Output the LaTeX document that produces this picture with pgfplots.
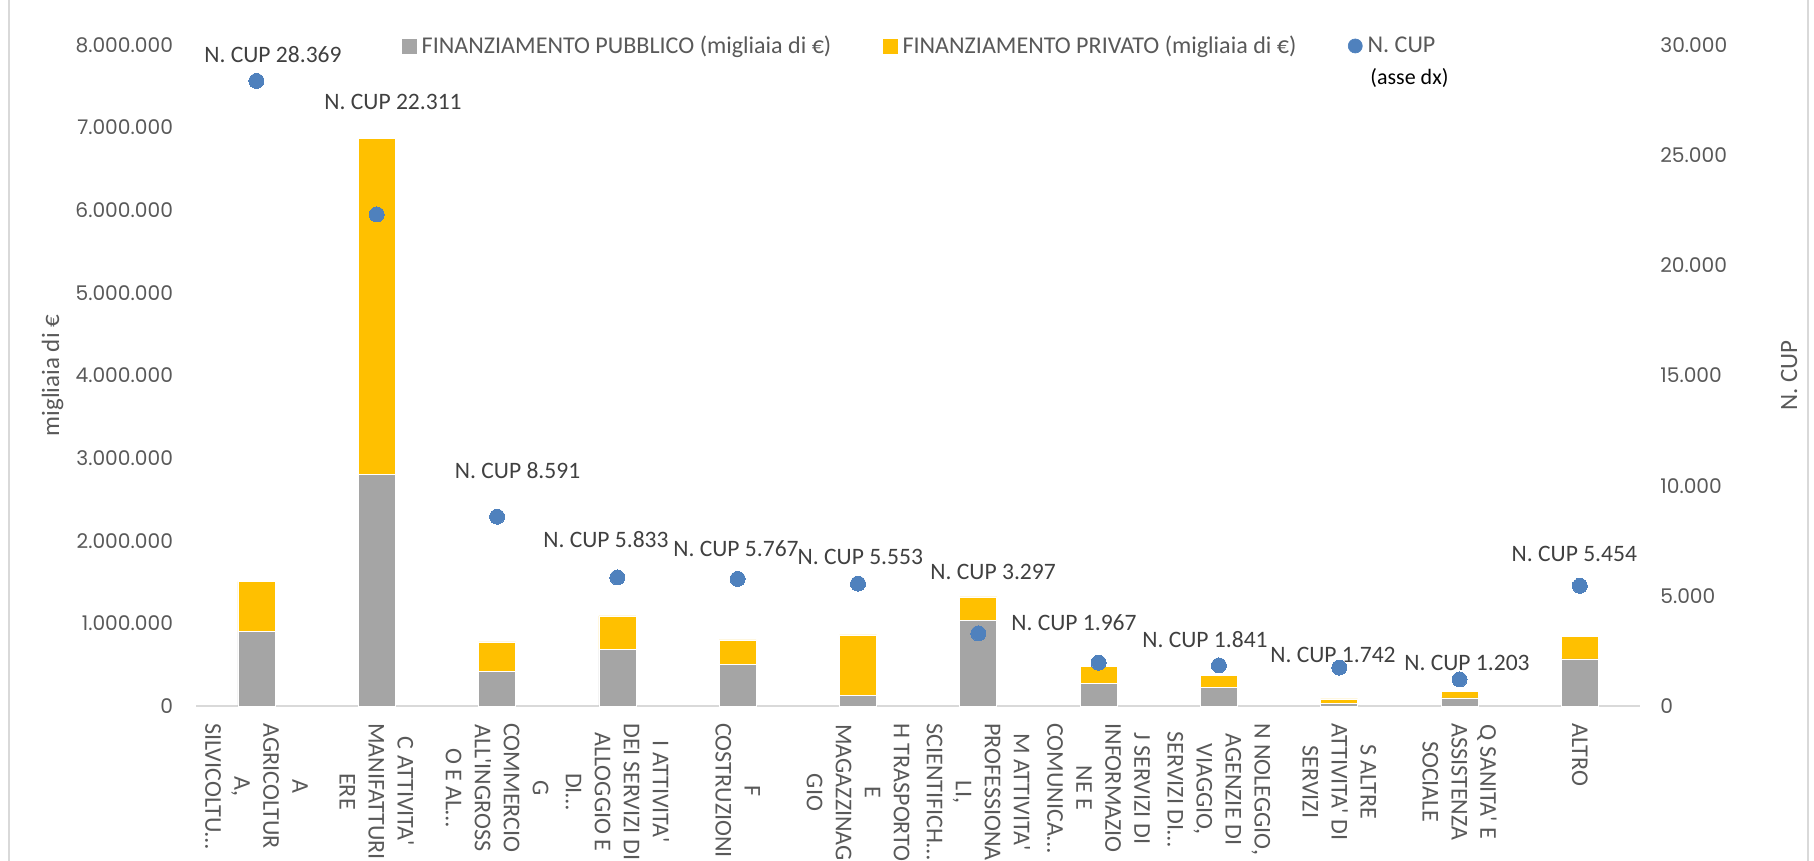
\documentclass[border=0pt]{standalone}
\usepackage{fontspec}
\setmainfont{Carlito}
\newfontfamily\tickfont{Poppins}
\usepackage{pgfplots}
\usepackage{pgfplotstable}
\pgfplotsset{compat=1.18}
\definecolor{barg}{HTML}{A5A5A5}
\definecolor{bary}{HTML}{FFC000}
\definecolor{dotb}{HTML}{4F81BD}
\definecolor{txt}{HTML}{595959}
\definecolor{dlab}{HTML}{404040}
\definecolor{brd}{HTML}{D9D9D9}
\newcommand\xlfont{\fontsize{13.7}{16.5}\selectfont}
\newcommand\dlfont{\fontsize{13.4}{16}\selectfont}
\newcommand\lgfont{\fontsize{13.7}{16}\selectfont}
\newcommand\ttlfont{\fontsize{14.2}{16}\selectfont}
\newcommand\tkfont{\tickfont\fontsize{11.5}{13}\selectfont}
\newcommand\asfont{\fontsize{12.5}{14}\selectfont}
\newcommand\q{\textquotesingle}

\pgfplotstableread{
x pub priv
0 900000 605000
1 2805000 4060000
2 415000 360000
3 686000 404000
4 508000 292000
5 125000 735000
6 1037000 283000
7 278000 206000
8 222000 153000
9 33000 52000
10 97000 81000
11 570000 274000
}\bardata

% N. CUP values; lx, ly = position of the value label
\pgfplotstableread{
x cup lx ly
0 28369 0.137 29549
1 22311 1.135 27426
2 8591 2.170 10679
3 5833 2.905 7535
4 5767 3.986 7156
5 5553 5.019 6779
6 3297 6.123 6093
7 1967 6.795 3783
8 1841 7.884 2994
9 1742 8.948 2314
10 1203 10.062 1938
11 5454 10.954 6897
}\cupdata

\begin{document}
\begin{tikzpicture}
\begin{axis}[
  scale only axis, width=288.74mm, height=132.2mm,
  xmin=-0.5, xmax=11.5, ymin=0, ymax=8000000, enlargelimits=false,
  ybar stacked, bar width=7.4mm,
  axis x line*=bottom, axis y line*=left,
  x axis line style={draw=brd, line width=0.4mm, -},
  y axis line style={draw=none},
  major tick length=0pt, tick style={draw=none},
  xtick={0,...,11},
  xticklabels={
    {A\\AGRICOLTUR\\A,\\SILVICOLTU…},
    {C ATTIVITA\q\\MANIFATTURI\\ERE},
    {G\\COMMERCIO\\ALL\q INGROSS\\O E AL…},
    {I ATTIVITA\q\\DEI SERVIZI DI\\ALLOGGIO E\\DI…},
    {F\\COSTRUZIONI},
    {H TRASPORTO\\E\\MAGAZZINAG\\GIO},
    {M ATTIVITA\q\\PROFESSIONA\\LI,\\SCIENTIFICH…},
    {J SERVIZI DI\\INFORMAZIO\\NE E\\COMUNICA…},
    {N NOLEGGIO,\\AGENZIE DI\\VIAGGIO,\\SERVIZI DI…},
    {S ALTRE\\ATTIVITA\q{} DI\\SERVIZI},
    {Q SANITA\q{} E\\ASSISTENZA\\SOCIALE},
    {ALTRO}},
  xticklabel style={yshift=-3.4mm, rotate=-90, anchor=west, align=center, inner sep=0pt, font=\xlfont, text=txt},
  ytick={0,1000000,2000000,3000000,4000000,5000000,6000000,7000000,8000000},
  scaled y ticks=false,
  /pgf/number format/assume math mode=true,
  /pgf/number format/fixed, /pgf/number format/precision=0, /pgf/number format/1000 sep={.},
  yticklabel style={anchor=east, inner sep=0pt, xshift=-4.6mm, font=\tkfont, text=txt},
  ylabel={migliaia di €},
  ylabel style={at={(axis description cs:-0.0996,0.5)}, anchor=center, font=\ttlfont, text=txt, inner sep=0pt},
  clip=false,
]
\addplot[fill=barg, draw=white, line width=0.4pt] table[x=x,y=pub]{\bardata};
\addplot[fill=bary, draw=white, line width=0.4pt] table[x=x,y=priv]{\bardata};
\end{axis}

\begin{axis}[
  scale only axis, width=288.74mm, height=132.2mm,
  xmin=-0.5, xmax=11.5, ymin=0, ymax=30000, enlargelimits=false,
  axis x line=none, axis y line*=right,
  y axis line style={draw=none},
  major tick length=0pt, tick style={draw=none},
  xtick=\empty,
  ytick={0,5000,10000,15000,20000,25000,30000},
  scaled y ticks=false,
  /pgf/number format/assume math mode=true,
  /pgf/number format/fixed, /pgf/number format/precision=0, /pgf/number format/1000 sep={.},
  yticklabel style={anchor=west, inner sep=0pt, xshift=4mm, font=\tkfont, text=txt},
  ylabel={N. CUP},
  ylabel style={at={(axis description cs:1.1032,0.5)}, anchor=center, font=\ttlfont, text=txt, inner sep=0pt},
  legend columns=3, legend cell align=left,
  legend style={at={(axis description cs:0.1425,0.9985)}, anchor=west, draw=none, fill=none,
    inner sep=0pt, outer sep=0pt, font=\lgfont, text=txt, nodes={inner sep=0pt},
    /tikz/every odd column/.append style={column sep=1mm},
    /tikz/every even column/.append style={column sep=10.3mm}},
  clip=false,
]
\addlegendimage{legend image code/.code={\fill[barg] (0mm,-1.4mm) rectangle (2.8mm,1.4mm);}}
\addlegendentry{FINANZIAMENTO PUBBLICO (migliaia di €)}
\addlegendimage{legend image code/.code={\fill[bary] (0mm,-1.4mm) rectangle (2.8mm,1.4mm);}}
\addlegendentry{FINANZIAMENTO PRIVATO (migliaia di €)}
\addplot[only marks, color=dotb, mark=*, mark size=1.5mm, mark options={fill=dotb, draw=dotb, line width=0pt},
  legend image code/.code={\fill[dotb] (1.4mm,0) circle (1.4mm);}]
  table[x=x,y=cup]{\cupdata};
\addlegendentry{N. CUP}
\addplot[draw=none, mark=none, forget plot, point meta=explicit,
  nodes near coords={N. CUP \pgfmathprintnumber[fixed,precision=0,1000 sep={.},assume math mode=true]{\pgfplotspointmeta}},
  nodes near coords style={anchor=center, font=\dlfont, text=dlab, inner sep=0pt},
] table[x=lx,y=ly,meta=cup]{\cupdata};
\node[font=\asfont, text=black, anchor=center, inner sep=0pt] at (axis description cs:0.8403,0.950) {(asse dx)};
\end{axis}
\draw[brd, line width=0.3mm] (-37.46mm,-35mm) rectangle (322.3mm,145mm);
\pgfresetboundingbox
\path[use as bounding box] (-39.26mm,-30.8mm) rectangle (323.54mm,141.2mm);
\end{tikzpicture}
\end{document}
